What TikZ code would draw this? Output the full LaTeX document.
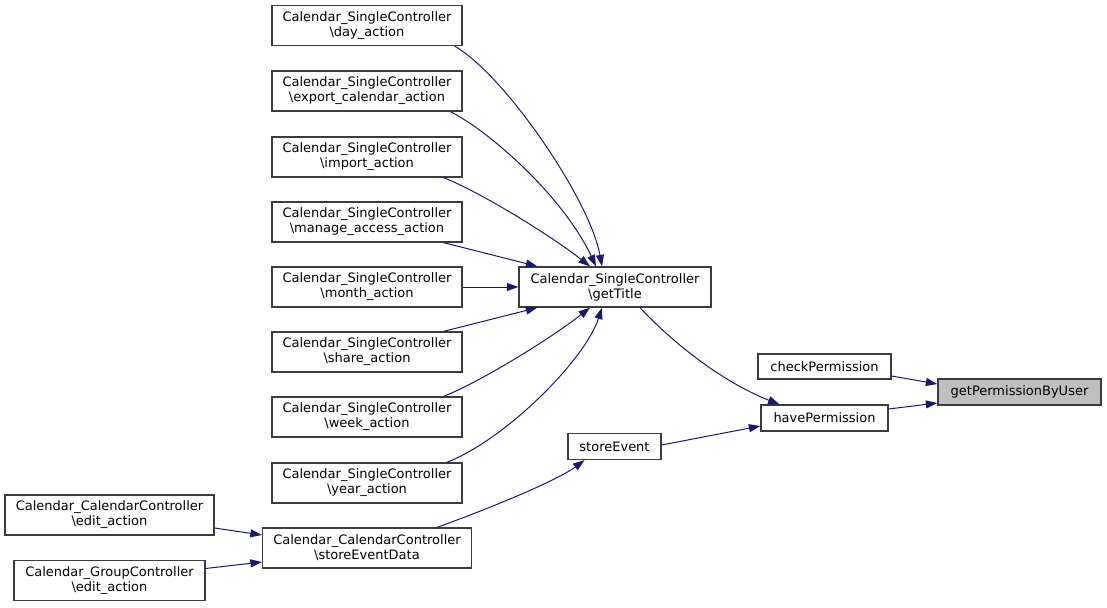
\documentclass[tikz,border=0pt]{standalone}
\usepackage{fontspec}
\setmainfont{DejaVu Sans}
\usetikzlibrary{arrows.meta}
\definecolor{edgecol}{RGB}{25,25,112}
\definecolor{boxline}{RGB}{60,60,60}
\definecolor{hilite}{RGB}{191,191,191}
\begin{document}
\begin{tikzpicture}[x=1pt,y=-1pt,
  fn/.style={draw=boxline,line width=1.3pt,fill=white,inner sep=0pt,align=center,
    font=\fontsize{13pt}{15pt}\selectfont},
  two/.style={fn,minimum height=40pt},
  one/.style={fn,minimum height=26pt},
  call/.style={draw=edgecol,line width=1pt,-{Triangle[length=11.5pt,width=8pt,fill=edgecol]}}
]
\fill[white] (0,0) rectangle (1107,607);
\useasboundingbox (0,0) rectangle (1107,607);

% left column
\node[two,minimum width=190pt] (day) at (367,25.5) {Calendar\_SingleController\\\textbackslash day\_action};
\node[two,minimum width=190pt] (exp) at (367,91) {Calendar\_SingleController\\\textbackslash export\_calendar\_action};
\node[two,minimum width=190pt] (imp) at (367,157) {Calendar\_SingleController\\\textbackslash import\_action};
\node[two,minimum width=190pt] (man) at (367,222) {Calendar\_SingleController\\\textbackslash manage\_access\_action};
\node[two,minimum width=190pt] (mon) at (367,287) {Calendar\_SingleController\\\textbackslash month\_action};
\node[two,minimum width=190pt] (sha) at (367,352) {Calendar\_SingleController\\\textbackslash share\_action};
\node[two,minimum width=190pt] (wee) at (367,417) {Calendar\_SingleController\\\textbackslash week\_action};
\node[two,minimum width=190pt] (yea) at (367,483) {Calendar\_SingleController\\\textbackslash year\_action};

\node[two,minimum width=209pt] (ced) at (109.5,515) {Calendar\_CalendarController\\\textbackslash edit\_action};
\node[two,minimum width=191pt] (ged) at (109.5,580.5) {Calendar\_GroupController\\\textbackslash edit\_action};
\node[two,minimum width=209pt] (sed) at (367,548) {Calendar\_CalendarController\\\textbackslash storeEventData};

\node[two,minimum width=192pt] (gt) at (615,287) {Calendar\_SingleController\\\textbackslash getTitle};
\node[one,minimum width=93pt] (sto) at (614.5,446.5) {storeEvent};
\node[one,minimum width=133pt,minimum height=25pt] (chk) at (824.5,366.5) {checkPermission};
\node[one,minimum width=127pt] (hav) at (824.5,418) {havePermission};
\node[one,minimum width=163pt,fill=hilite] (gpu) at (1019.5,392) {getPermissionByUser};

% edges into getTitle
\draw[call] ([xshift=-8pt]day.south east) .. controls (505,75) and (590,200) .. ([xshift=-13pt]gt.north);
\draw[call] ([xshift=-12pt]exp.south east) .. controls (495,135) and (565,200) .. ([xshift=-19pt]gt.north);
\draw[call] ([xshift=-19pt]imp.south east) .. controls (480,192) and (550,235) .. ([xshift=-25pt]gt.north);
\draw[call] ([xshift=-19pt]man.south east) -- ([xshift=19pt]gt.north west);
\draw[call] (mon.east) -- (gt.west);
\draw[call] ([xshift=-19pt]sha.north east) -- ([xshift=19pt]gt.south west);
\draw[call] ([xshift=-19pt]wee.north east) .. controls (480,382) and (550,339) .. ([xshift=-25pt]gt.south);
\draw[call] ([xshift=-16pt]yea.north east) .. controls (505,440) and (585,360) .. ([xshift=-13pt]gt.south);

% other edges
\draw[call] ([xshift=25pt]gt.south) .. controls (672,342) and (722,382) .. ([xshift=-45pt]hav.north);
\draw[call] ([yshift=1.5pt]sto.east) -- ([yshift=-8pt]hav.west);
\draw[call] ([yshift=-9.5pt]chk.east) -- ([yshift=8pt]gpu.west);
\draw[call] ([yshift=9pt]hav.east) -- ([yshift=-11pt]gpu.west);
\draw[call] ([xshift=70pt]sed.north) .. controls (480,512) and (555,482) .. ([xshift=-30pt]sto.south);
\draw[call] ([yshift=-13pt]ced.east) -- ([yshift=13pt]sed.west);
\draw[call] ([yshift=12pt]ged.east) -- ([yshift=-14pt]sed.west);
\end{tikzpicture}
\end{document}
